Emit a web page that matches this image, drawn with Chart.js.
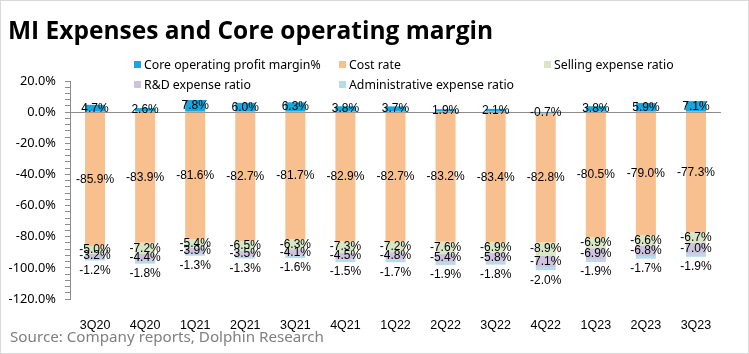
<!DOCTYPE html>
<html>
<head>
<meta charset="utf-8">
<script src="https://cdn.jsdelivr.net/npm/chart.js@4/dist/chart.umd.min.js"></script>
<style>
  html, body { margin: 0; padding: 0; background: #fff; }
  #wrap { position: relative; width: 749px; height: 354px; overflow: hidden; box-sizing: border-box; border: 1px solid #d9d9d9; }
  #chart { position: absolute; left: -1px; top: -1px; }
  #title { position: absolute; left: 7px; top: 16px; font: bold 24.5px "Open Sans", sans-serif; line-height: 25px; color: #000; white-space: nowrap; }
  #source { position: absolute; left: 9px; top: 326px; font: 15.2px "Noto Sans", sans-serif; line-height: 18px; color: #7f7f7f; white-space: nowrap; }
  .lg { position: absolute; font: 12.3px "Noto Sans", sans-serif; line-height: 14px; color: #000; white-space: nowrap; }
  .lg i { position: absolute; left: -10px; top: 3px; width: 7px; height: 7px; }
</style>
</head>
<body>
<div id="wrap">
  <canvas id="chart" width="749" height="354"></canvas>
  <div id="title">MI Expenses and Core operating margin</div>
  <div id="legend"></div>
  <div id="source">Source: Company reports, Dolphin Research</div>
</div>
<script>
// data (%)
var quarters = ['3Q20','4Q20','1Q21','2Q21','3Q21','4Q21','1Q22','2Q22','3Q22','4Q22','1Q23','2Q23','3Q23'];
var coreMargin = [4.7, 2.6, 7.8, 6.0, 6.3, 3.8, 3.7, 1.9, 2.1, -0.7, 3.8, 5.9, 7.1];
var costRate = [-85.9, -83.9, -81.6, -82.7, -81.7, -82.9, -82.7, -83.2, -83.4, -82.8, -80.5, -79.0, -77.3];
var sellingRatio = [-5.0, -7.2, -5.4, -6.5, -6.3, -7.3, -7.2, -7.6, -6.9, -8.9, -6.9, -6.6, -6.7];
var rdRatio = [-3.2, -4.4, -3.9, -3.5, -4.1, -4.5, -4.8, -5.4, -5.8, -7.1, -6.9, -6.8, -7.0];
var adminRatio = [-1.2, -1.8, -1.3, -1.3, -1.6, -1.5, -1.7, -1.9, -1.8, -2.0, -1.9, -1.7, -1.9];
var yTicks = [20, 0, -20, -40, -60, -80, -100, -120];

var seriesNames = ['Core operating profit margin%', 'Cost rate', 'Selling expense ratio', 'R&D expense ratio', 'Administrative expense ratio'];
var seriesColors = ['#12a9e3', '#f9c08f', '#d8e6c6', '#cdc3de', '#b5dce9'];
var seriesData = [coreMargin, costRate, sellingRatio, rdRatio, adminRatio];

// legend (2 rows, 3 columns like the original)
var legendPos = [[143, 57], [348, 57], [553, 57], [143, 77], [348, 77]];
var legendBox = document.getElementById('legend');
seriesNames.forEach(function (name, i) {
    var d = document.createElement('div');
    d.className = 'lg';
    d.style.left = legendPos[i][0] + 'px';
    d.style.top = legendPos[i][1] + 'px';
    d.innerHTML = '<i style="background:' + seriesColors[i] + '"></i>';
    d.appendChild(document.createTextNode(name));
    legendBox.appendChild(d);
});

// value labels drawn on top of the bars
var barLabels = {
    id: 'barLabels',
    afterDatasetsDraw: function (chart) {
        var ctx = chart.ctx;
        ctx.save();
        ctx.font = '12px "Liberation Sans Narrow", "Liberation Sans", sans-serif';
        ctx.fillStyle = '#000';
        ctx.textAlign = 'center';
        ctx.textBaseline = 'middle';
        chart.data.datasets.forEach(function (ds, i) {
            var meta = chart.getDatasetMeta(i);
            meta.data.forEach(function (bar, j) {
                var p = bar.getProps(['x', 'y', 'base'], true);
                var ty = (p.y + p.base) / 2;
                if (i === 4) ty = p.y + 10;  // admin ratio label sits below the bar end
                ctx.fillText(ds.data[j].toFixed(1) + '%', p.x, ty);
            });
        });
        ctx.restore();
    }
};

var ctx = document.getElementById('chart').getContext('2d');
var chart = new Chart(ctx, {
    type: 'bar',
    data: {
        labels: quarters,
        datasets: seriesData.map(function (arr, i) {
            return {
                label: seriesNames[i],
                data: arr,
                backgroundColor: seriesColors[i],
                borderWidth: 0,
                barPercentage: 1,
                categoryPercentage: 0.4
            };
        })
    },
    options: {
        responsive: false,
        animation: false,
        devicePixelRatio: 1,
        layout: { padding: { top: 81, right: 28, left: 0, bottom: 0 } },
        plugins: { legend: { display: false }, tooltip: { enabled: false } },
        scales: {
            x: {
                stacked: true,
                grid: { display: false },
                border: { display: false },
                ticks: {
                    padding: 11,
                    color: '#000',
                    font: { family: '"Liberation Sans Narrow", "Liberation Sans", sans-serif', size: 12.5 },
                    maxRotation: 0
                },
                afterFit: function (s) { s.height = 55; }
            },
            y: {
                stacked: true,
                min: -120,
                max: 20,
                border: { display: true, color: '#8c8c8c' },
                grid: {
                    color: function (c) { return c.tick && c.tick.value === 0 ? '#8c8c8c' : 'rgba(0,0,0,0)'; },
                    tickColor: '#8c8c8c',
                    tickLength: 5,
                    drawTicks: true
                },
                ticks: {
                    stepSize: 4,
                    autoSkip: false,
                    padding: 9,
                    color: '#000',
                    font: { family: '"Noto Sans", sans-serif', size: 12.8 },
                    callback: function (v) { return yTicks.indexOf(v) >= 0 ? v.toFixed(1) + '%' : ''; }
                },
                afterFit: function (s) { s.width = 70; }
            }
        }
    },
    plugins: [barLabels]
});
</script>
</body>
</html>
